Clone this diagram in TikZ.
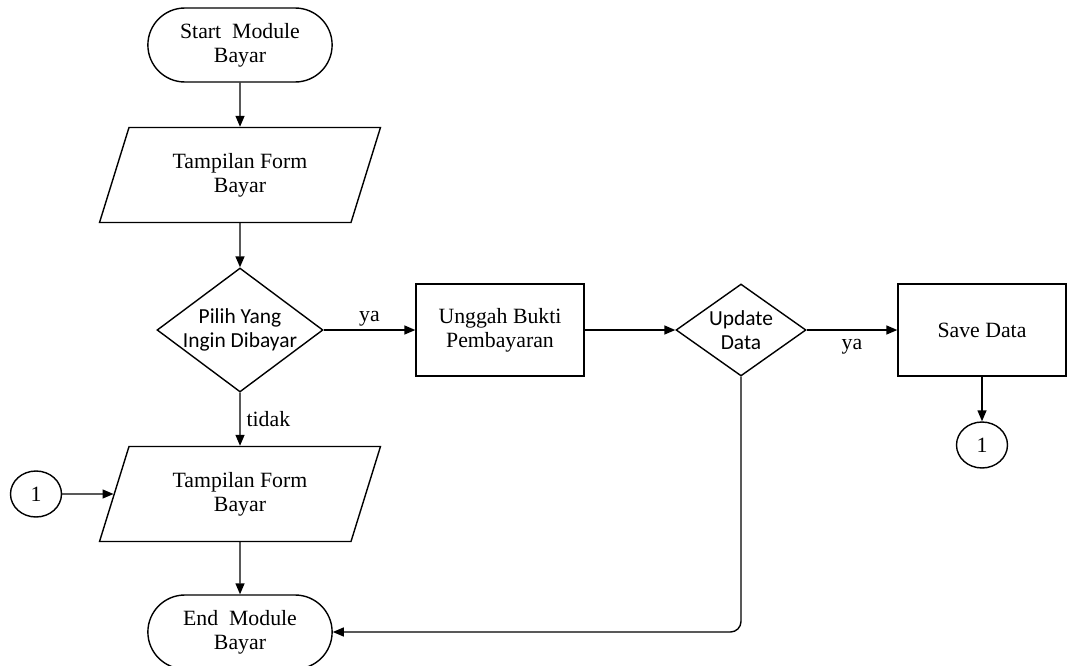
\documentclass[tikz,border=0pt]{standalone}
\usepackage{fontspec}
\setmainfont{Liberation Serif}
\newfontfamily\calibri{Carlito}
\usetikzlibrary{shapes.geometric,shapes.misc,arrows.meta}

\begin{document}
\begin{tikzpicture}[
				x = 0.02cm, y = -0.02cm, % one unit is one pixel
				> = {Triangle[length=2.2mm,width=1.8mm]}, % arrow head style
				line width = 0.8pt,
				font = \fontsize{12.4}{13.6}\selectfont,
				terminal/.style = {draw, rounded rectangle, minimum width=3.92cm, minimum height=1.48cm, align=center},
				io/.style = {draw, trapezium, trapezium left angle=62, trapezium right angle=118, trapezium stretches body, minimum width=5.62cm, minimum height=1.9cm, align=center},
				process/.style = {draw, rectangle, minimum width=3.36cm, minimum height=1.84cm, align=center},
				decision/.style = {draw, diamond, inner sep=0pt}, % text goes in a centred label
				dtext/.style = {align=center, inner sep=0pt, font=\calibri\fontsize{12.2}{13.6}\selectfont},
				connector/.style = {draw, ellipse, minimum width=1.02cm, minimum height=0.92cm, inner sep=0pt}
				]
				
				\useasboundingbox (0,0) rectangle (1069,666);
				
				\node[terminal] (start) at (240,45) {Start~ Module\\Bayar};
				\node[io] (form1) at (240,175) {Tampilan Form\\Bayar};
				\node[decision, minimum width=3.32cm, minimum height=2.48cm,
					label={[dtext]center:{Pilih Yang\\Ingin Dibayar}}] (pilih) at (240,330) {};
				\node[process] (unggah) at (500,330) {Unggah Bukti\\Pembayaran};
				\node[decision, minimum width=2.6cm, minimum height=1.84cm,
					label={[dtext]center:{Update\\Data}}] (update) at (741,330) {};
				\node[process] (save) at (982,330) {Save Data};
				\node[connector] (c1b) at (982,445) {1};
				\node[io] (form2) at (240,494) {Tampilan Form\\Bayar};
				\node[connector] (c1a) at (36,494) {1};
				\node[terminal] (end) at (240,632) {End~ Module\\Bayar};
				
				\draw[->] (start) -- (form1);
				\draw[->] (form1) -- (pilih);
				\draw[->] (pilih) -- node[above, inner sep=1.5pt] {ya} (unggah);
				\draw[->] (pilih) -- node[right] {tidak} (form2);
				\draw[->] (unggah) -- (update);
				\draw[->] (update) -- node[below, inner sep=5pt] {ya} (save);
				\draw[->] (save) -- (c1b);
				\draw[->] (c1a) -- (form2);
				\draw[->] (form2) -- (end);
				\draw[->, rounded corners=6pt] (update) |- (end);
				
			\end{tikzpicture}
\end{document}
